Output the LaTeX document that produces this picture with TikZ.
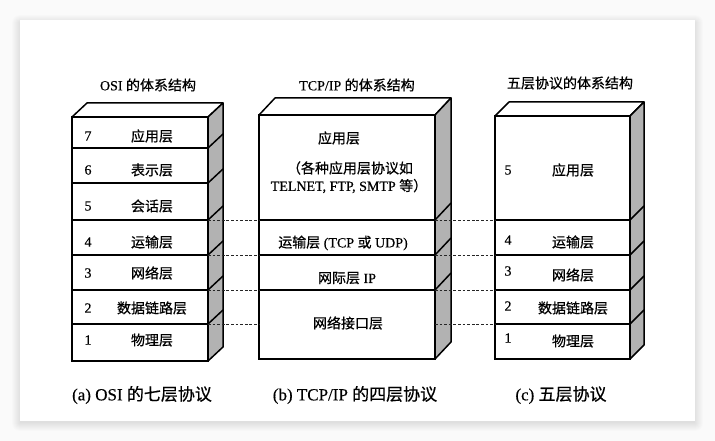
\documentclass[tikz,border=0pt]{standalone}
\usepackage{fontspec}
\setmainfont[FakeBold=0.4]{Liberation Serif}
\newfontfamily\cjk[FakeBold=0.6]{Noto Sans CJK SC}
\tikzset{
  layer/.style={draw=black, line width=1.5pt, fill=white, anchor=north west, inner sep=0pt, outer sep=0pt},
  face/.style={draw=black, line width=1.5pt, line join=round},
  sideface/.style={face, fill=black!30},
  topface/.style={face, fill=white},
  diag/.style={draw=black, line width=1.5pt},
  txt/.style={font=\fontsize{14}{16}\selectfont, inner sep=0pt},
  captxt/.style={font=\fontsize{17}{19}\selectfont, inner sep=0pt},
  dashline/.style={draw=black!85, line width=1pt, dash pattern=on 2.8pt off 1.8pt}
}
\begin{document}
\begin{tikzpicture}[x=1pt,y=-1pt]
\useasboundingbox (0,0) rectangle (715,441);
\fill[gray!4] (0,0) rectangle (715,441);
\foreach \i in {0,...,8} {\fill[black,opacity=0.012,rounded corners=\i pt] (20-\i,23-\i) rectangle (695+\i,423+\i);}
\fill[white] (20,20) rectangle (695,421);

% ---------- OSI ----------
\foreach \n/\t/\h in {7/117/31, 6/148/35, 5/183/37, 4/220/35, 3/255/35, 2/290/34, 1/324/37}
  {\node[layer, minimum width=136pt, minimum height=\h pt] (osi\n) at (72,\t) {};}
\fill[topface] (osi7.north west) -- ++(15,-14) -- ([shift={(15,-14)}]osi7.north east) -- (osi7.north east) -- cycle;
\fill[sideface] (osi7.north east) -- ++(15,-14) -- ([shift={(15,-14)}]osi1.south east) -- (osi1.south east) -- cycle;
\foreach \n in {7,6,5,4,3,2} {\draw[diag] (osi\n.south east) -- ++(15,-14);}
\foreach \n/\y/\lab in {7/136/应用层, 6/170/表示层, 5/206/会话层, 4/242/运输层, 3/273/网络层, 2/308/数据链路层, 1/340/物理层}
  {\node[txt] (osinum\n) at (88,\y) {\n};
   \node[txt] (osilab\n) at (152,\y) {\cjk \lab};}
\node[txt] (osititle) at (148,85) {OSI {\cjk 的体系结构}};
\node[captxt] (osicap) at (142,395) {(a) OSI {\cjk 的七层协议}};

% ---------- TCP/IP ----------
\node[layer, minimum width=176pt, minimum height=105pt] (tcpA) at (259,115) {};
\node[layer, minimum width=176pt, minimum height=35pt] (tcpT) at (259,220) {};
\node[layer, minimum width=176pt, minimum height=35pt] (tcpI) at (259,255) {};
\node[layer, minimum width=176pt, minimum height=69pt] (tcpN) at (259,290) {};
\fill[topface] (tcpA.north west) -- ++(16,-17) -- ([shift={(16,-17)}]tcpA.north east) -- (tcpA.north east) -- cycle;
\fill[sideface] (tcpA.north east) -- ++(16,-17) -- ([shift={(16,-17)}]tcpN.south east) -- (tcpN.south east) -- cycle;
\foreach \n in {tcpA,tcpT,tcpI} {\draw[diag] (\n.south east) -- ++(16,-17);}
\node[txt] (tcplabA) at (339,138) {\cjk 应用层};
\node[txt] (tcplabA2) at (350,168) {\cjk （各种应用层协议如};
\node[txt] (tcplabA3) at (349,186) {TELNET, FTP, SMTP {\cjk 等）}};
\node[txt] (tcplabT) at (343,243) {{\cjk 运输层} (TCP {\cjk 或} UDP)};
\node[txt] (tcplabI) at (347,278) {{\cjk 网际层} IP};
\node[txt] (tcplabN) at (348,323) {\cjk 网络接口层};
\node[txt] (tcptitle) at (357,85) {TCP/IP {\cjk 的体系结构}};
\node[captxt] (tcpcap) at (355,395) {(b) TCP/IP {\cjk 的四层协议}};

% ---------- Five layers ----------
\foreach \n/\t/\h in {5/116/104, 4/220/35, 3/255/35, 2/290/34, 1/324/35}
  {\node[layer, minimum width=135pt, minimum height=\h pt] (five\n) at (495,\t) {};}
\fill[topface] (five5.north west) -- ++(14,-14) -- ([shift={(14,-14)}]five5.north east) -- (five5.north east) -- cycle;
\fill[sideface] (five5.north east) -- ++(14,-14) -- ([shift={(14,-14)}]five1.south east) -- (five1.south east) -- cycle;
\foreach \n in {5,4,3,2} {\draw[diag] (five\n.south east) -- ++(14,-14);}
\foreach \n/\yn/\yl/\lab in {5/170/170/应用层, 4/240/242/运输层, 3/271/275/网络层, 2/306/308/数据链路层, 1/338/341/物理层}
  {\node[txt] (fivenum\n) at (508,\yn) {\n};
   \node[txt] (fivelab\n) at (573,\yl) {\cjk \lab};}
\node[txt] (fivetitle) at (570,83) {\cjk 五层协议的体系结构};
\node[captxt] (fivecap) at (561,395) {(c) {\cjk 五层协议}};

% ---------- dashed correspondences ----------
\foreach \n in {5,4,3,2} {\draw[dashline] (osi\n.south east) -- (osi\n.south east -| tcpA.west);}
\foreach \n in {5,4,3,2} {\draw[dashline] (five\n.south west -| tcpA.east) -- (five\n.south west);}
\end{tikzpicture}
\end{document}
